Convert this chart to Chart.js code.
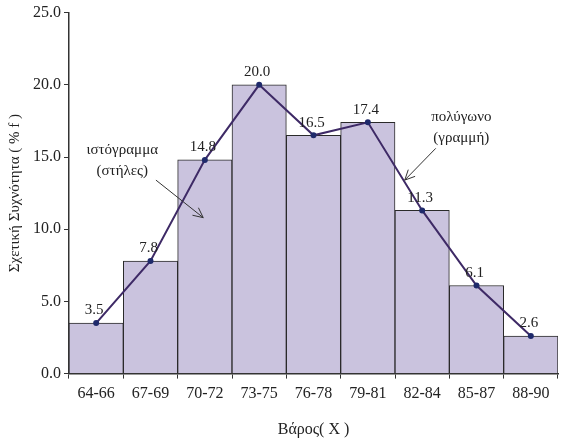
<!DOCTYPE html>
<html>
<head>
<meta charset="utf-8">
<script src="https://cdn.jsdelivr.net/npm/chart.js@4.4.1/dist/chart.umd.min.js"></script>
<style>
  html, body { margin: 0; padding: 0; background: #fff; }
  #wrap { width: 564px; height: 439px; }
</style>
</head>
<body>
<div id="wrap"><canvas id="grafico" width="564" height="439"></canvas></div>
<script>
const categorias = ['64-66', '67-69', '70-72', '73-75', '76-78', '79-81', '82-84', '85-87', '88-90'];
const frecuencias = [3.5, 7.8, 14.8, 20.0, 16.5, 17.4, 11.3, 6.1, 2.6];
const ticksY = [0, 5, 10, 15, 20, 25];

// notas: texto y flecha en unidades de datos (indice de categoria, valor)
const notas = [
    { lineas: ['ιστόγραμμα', '(στήλες)'], x: 0.48, y: 15.5, desde: [1.1, 13.4], hasta: [1.97, 10.8] },
    { lineas: ['πολύγωνο', '(γραμμή)'], x: 6.72, y: 17.8, desde: [6.25, 15.6], hasta: [5.68, 13.4] }
];

const fuente = "'Liberation Serif', 'DejaVu Serif', serif";

const etiquetasPlugin = {
    id: 'etiquetas',
    afterDatasetsDraw(chart) {
        const ctx = chart.ctx;
        const x = chart.scales.x, y = chart.scales.y;
        ctx.save();
        ctx.fillStyle = '#222';
        ctx.font = '15px ' + fuente;
        ctx.textAlign = 'center';
        ctx.textBaseline = 'bottom';
        frecuencias.forEach((v, i) => {
            ctx.fillText(v.toFixed(1), x.getPixelForValue(i) - 2, y.getPixelForValue(v) - 5);
        });

        ctx.textBaseline = 'middle';
        notas.forEach(n => {
            const px = x.getPixelForValue(n.x), py = y.getPixelForValue(n.y);
            n.lineas.forEach((t, k) => ctx.fillText(t, px, py + k * 21));
            const x1 = x.getPixelForValue(n.desde[0]), y1 = y.getPixelForValue(n.desde[1]);
            const x2 = x.getPixelForValue(n.hasta[0]), y2 = y.getPixelForValue(n.hasta[1]);
            ctx.strokeStyle = '#333';
            ctx.lineWidth = 1;
            ctx.beginPath();
            ctx.moveTo(x1, y1);
            ctx.lineTo(x2, y2);
            const ang = Math.atan2(y2 - y1, x2 - x1);
            ctx.moveTo(x2 - 11 * Math.cos(ang - 0.45), y2 - 11 * Math.sin(ang - 0.45));
            ctx.lineTo(x2, y2);
            ctx.lineTo(x2 - 11 * Math.cos(ang + 0.45), y2 - 11 * Math.sin(ang + 0.45));
            ctx.stroke();
        });
        ctx.restore();
    }
};

new Chart(document.getElementById('grafico'), {
    type: 'bar',
    data: {
        labels: categorias,
        datasets: [
            {
                type: 'line',
                data: frecuencias,
                borderColor: '#3e2a66',
                borderWidth: 2,
                pointBackgroundColor: '#1f2a6b',
                pointBorderColor: '#1f2a6b',
                pointRadius: 2,
                tension: 0,
                fill: false,
                order: 0
            },
            {
                data: frecuencias,
                backgroundColor: '#cac3de',
                borderColor: '#2a2a2a',
                borderWidth: 1,
                categoryPercentage: 1,
                barPercentage: 1,
                order: 1
            }
        ]
    },
    options: {
        responsive: false,
        animation: false,
        layout: { padding: { top: 6, right: 0, left: 0, bottom: 0 } },
        plugins: { legend: { display: false }, tooltip: { enabled: false } },
        scales: {
            x: {
                grid: { drawOnChartArea: false, offset: true, color: '#333', tickLength: 5 },
                border: { color: '#333', width: 1.5 },
                ticks: { color: '#222', font: { family: fuente, size: 16 }, padding: 6 },
                title: { display: true, text: 'Βάρος( X )', color: '#222', font: { family: fuente, size: 16 }, padding: { top: 10, bottom: 0 } }
            },
            y: {
                min: 0,
                max: 25,
                afterBuildTicks: axis => { axis.ticks = ticksY.map(v => ({ value: v })); },
                grid: { drawOnChartArea: false, color: '#333', tickLength: 5 },
                border: { color: '#333', width: 1.5 },
                ticks: { color: '#222', font: { family: fuente, size: 16 }, padding: 3, callback: v => v.toFixed(1) },
                title: { display: true, text: 'Σχετική Συχνότητα ( % f )', color: '#222', font: { family: fuente, size: 15 }, padding: { top: 6, bottom: 6 } }
            }
        }
    },
    plugins: [etiquetasPlugin]
});
</script>
</body>
</html>
